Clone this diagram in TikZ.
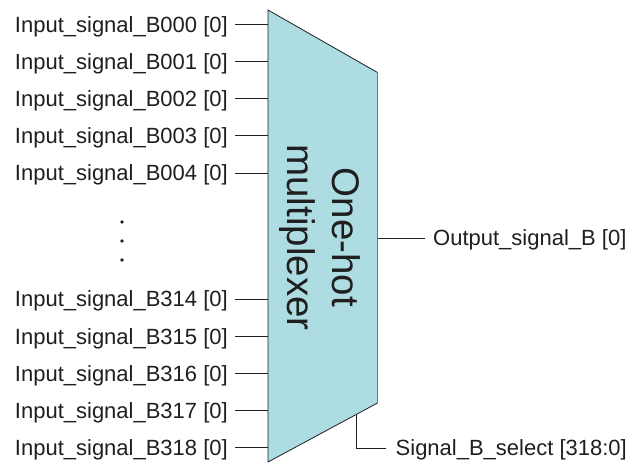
\documentclass[tikz,border=0pt]{standalone}
\usepackage{fontspec}
\setmainfont{Liberation Sans}
\begin{document}
\begin{tikzpicture}[x=1pt,y=-1pt,
  ink/.style={draw=black!88, line width=0.9pt},
  pinlabel/.style={anchor=base east, inner sep=0pt, text=black!88,
    font=\fontsize{22}{26}\selectfont},
  outlabel/.style={anchor=base west, inner sep=0pt, text=black!88,
    font=\fontsize{22}{26}\selectfont},
  muxtext/.style={anchor=base, rotate=-90, inner sep=0pt, text=black!88,
    font=\fontsize{38.5}{45}\selectfont},
  dot/.style={circle, fill=black!88, inner sep=0pt, minimum size=3.6pt}]
\useasboundingbox (0,0) rectangle (640,464);
\definecolor{muxfill}{RGB}{173,220,226}

% multiplexer body
\coordinate (tl) at (268,10);
\coordinate (tr) at (377.5,72.5);
\coordinate (br) at (377.5,403);
\coordinate (bl) at (268,462);
\fill[muxfill] (tl) -- (tr) -- (br) -- (bl) -- cycle;
\draw[draw=black!88, line width=0.8pt] (br) -- (bl) -- (tl) -- (tr);
\draw[draw=black!55, line width=1.6pt] (tr) -- (br);

\node[muxtext] (title1) at (332,237.5) {One-hot};
\node[muxtext] (title2) at (287,237.5) {multiplexer};

% input pins
\foreach \name/\lab/\y in {a/000/24.3, b/001/61.5, c/002/98.7, d/003/135.9, e/004/173.1,
                           f/314/299, g/315/336.2, h/316/373.4, i/317/410.6, j/318/447.8} {
  \coordinate (pin\name) at (268,\y);
  \node[pinlabel] (lab\name) at (228,\y+7.8) {Input\_signal\_B\lab{} [0]};
  \draw[ink] (235,\y) -- (pin\name);
}

% ellipsis between the two groups
\node[dot] (d1) at (122,222) {};
\node[dot] (d2) at (122,241) {};
\node[dot] (d3) at (122,260) {};

% output
\coordinate (outpin) at (377.5,238);
\coordinate (outend) at (425,238);
\node[outlabel] (outlab) at (433,238+7.8) {Output\_signal\_B [0]};
\draw[ink] (outpin) -- (outend);

% select input
\coordinate (selpin) at (356,414.8);
\coordinate (selend) at (386,448);
\node[outlabel] (sellab) at (395.5,448+7.8) {Signal\_B\_select [318:0]};
\draw[ink] (selpin) |- (selend);
\end{tikzpicture}
\end{document}
